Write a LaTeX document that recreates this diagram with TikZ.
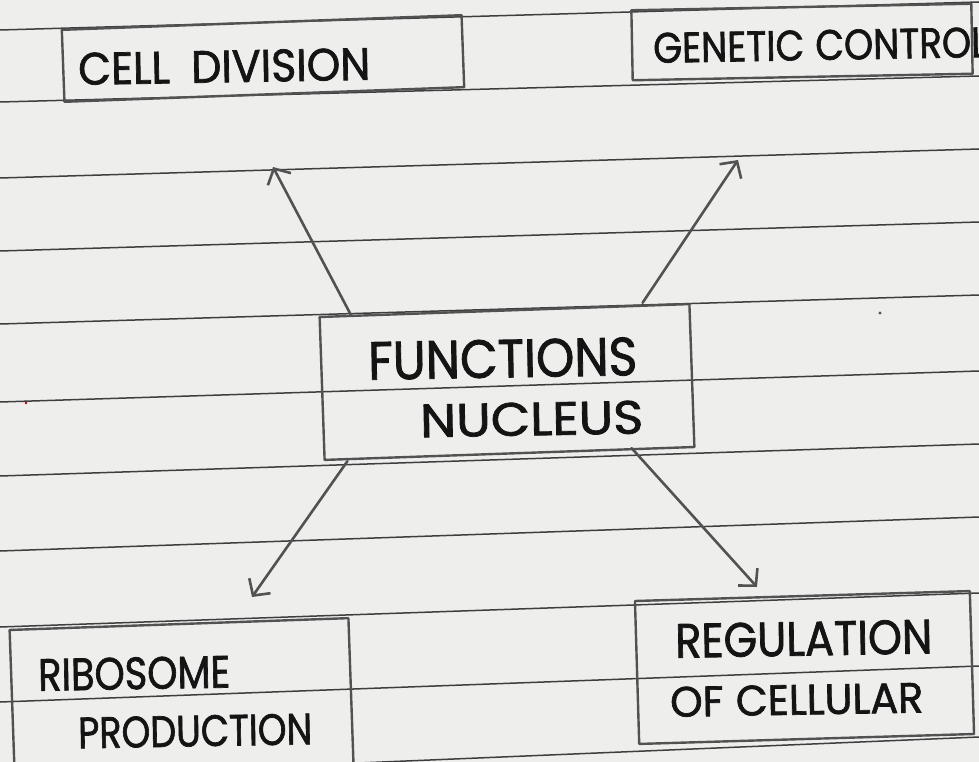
\documentclass[tikz,border=0pt]{standalone}
\usepackage{fontspec}
\usepackage{graphicx}
\setmainfont{Poppins}[FakeBold=1.6,AutoFakeBold=1.6]
\usetikzlibrary{arrows.meta}
\definecolor{paper}{RGB}{238,239,237}
\definecolor{ruleink}{RGB}{62,62,62}
\definecolor{pencil}{RGB}{82,82,82}
\definecolor{ink}{RGB}{20,20,20}
\tikzset{
  ruled/.style={draw=ruleink, line width=1.5pt},
  boxnode/.style={draw=pencil, line width=2.4pt, inner sep=0pt, line join=round},
  conn/.style={draw=pencil, line width=2.6pt, line cap=round,
    -{Straight Barb[length=12pt,width=26pt,line width=2.6pt]}},
  lbl/.style={inner sep=0pt, text=ink, anchor=west, rotate=1, font=\bfseries},
}
\newcommand{\hwtext}[3]{\resizebox{#1pt}{#2pt}{#3}}
\begin{document}
\begin{tikzpicture}[x=1pt,y=-1pt]
  \fill[paper] (0,0) rectangle (979,762);
  \useasboundingbox (0,0) rectangle (979,762);
  \clip (0,0) rectangle (979,762);
  % ruled lines of the paper
  \foreach \l/\r in {30/2,102/76,178/149,251/222,324/295,402/371,476/444,551/517,627/593,702/666,778/737}
    \draw[ruled] (0,\l) -- (979,\r);
  % paper specks
  \fill[pencil] (880,313) circle (1.6);
  \fill[red!70!black] (26,403) circle (1.3);
  % boxes
  \node[boxnode, minimum width=400pt, minimum height=72pt, rotate=2.1] (cdbox) at (263,58.5) {};
  \node[boxnode, minimum width=340pt, minimum height=70pt, rotate=1.1] (gcbox) at (802,42) {};
  \node[boxnode, minimum width=370pt, minimum height=143pt, rotate=2] (fn) at (507,382) {};
  \node[boxnode, minimum width=339pt, minimum height=200pt, rotate=2] (rbbox) at (182.5,724) {};
  \node[boxnode, minimum width=335pt, minimum height=143pt, rotate=1.7] (rgbox) at (804.5,667.5) {};
  % texts
  \node[lbl] (cd) at (78,69) {\hwtext{292}{32}{CELL\hspace{0.5em}DIVISION}};
  \node[lbl] (gc) at (653,48) {\hwtext{334}{30}{GENETIC\hspace{0.3em}CONTROL}};
  \node[lbl] (fn1) at (368,361) {\hwtext{269}{38}{FUNCTIONS}};
  \node[lbl] (fn2) at (420,421) {\hwtext{223}{33}{NUCLEUS}};
  \node[lbl] (rb1) at (38,675) {\hwtext{192}{32}{RIBOSOME}};
  \node[lbl] (rb2) at (78,733) {\hwtext{234}{31}{PRODUCTION}};
  \node[lbl] (rg1) at (675,641) {\hwtext{257}{34}{REGULATION}};
  \node[lbl] (rg2) at (670,702) {\hwtext{253}{30}{OF\hspace{0.3em}CELLULAR}};
  % arrow tips
  \coordinate (t1) at (273,167);
  \coordinate (t2) at (738,160);
  \coordinate (t3) at (252,597);
  \coordinate (t4) at (757,587);
  % connectors
  \draw[conn] ([xshift=33pt]fn.north west) -- (t1);
  \draw[conn] ([xshift=-48pt]fn.north east) -- (t2);
  \draw[conn] ([xshift=24pt]fn.south west) -- (t3);
  \draw[conn] ([xshift=-64pt]fn.south east) -- (t4);
\end{tikzpicture}
\end{document}
